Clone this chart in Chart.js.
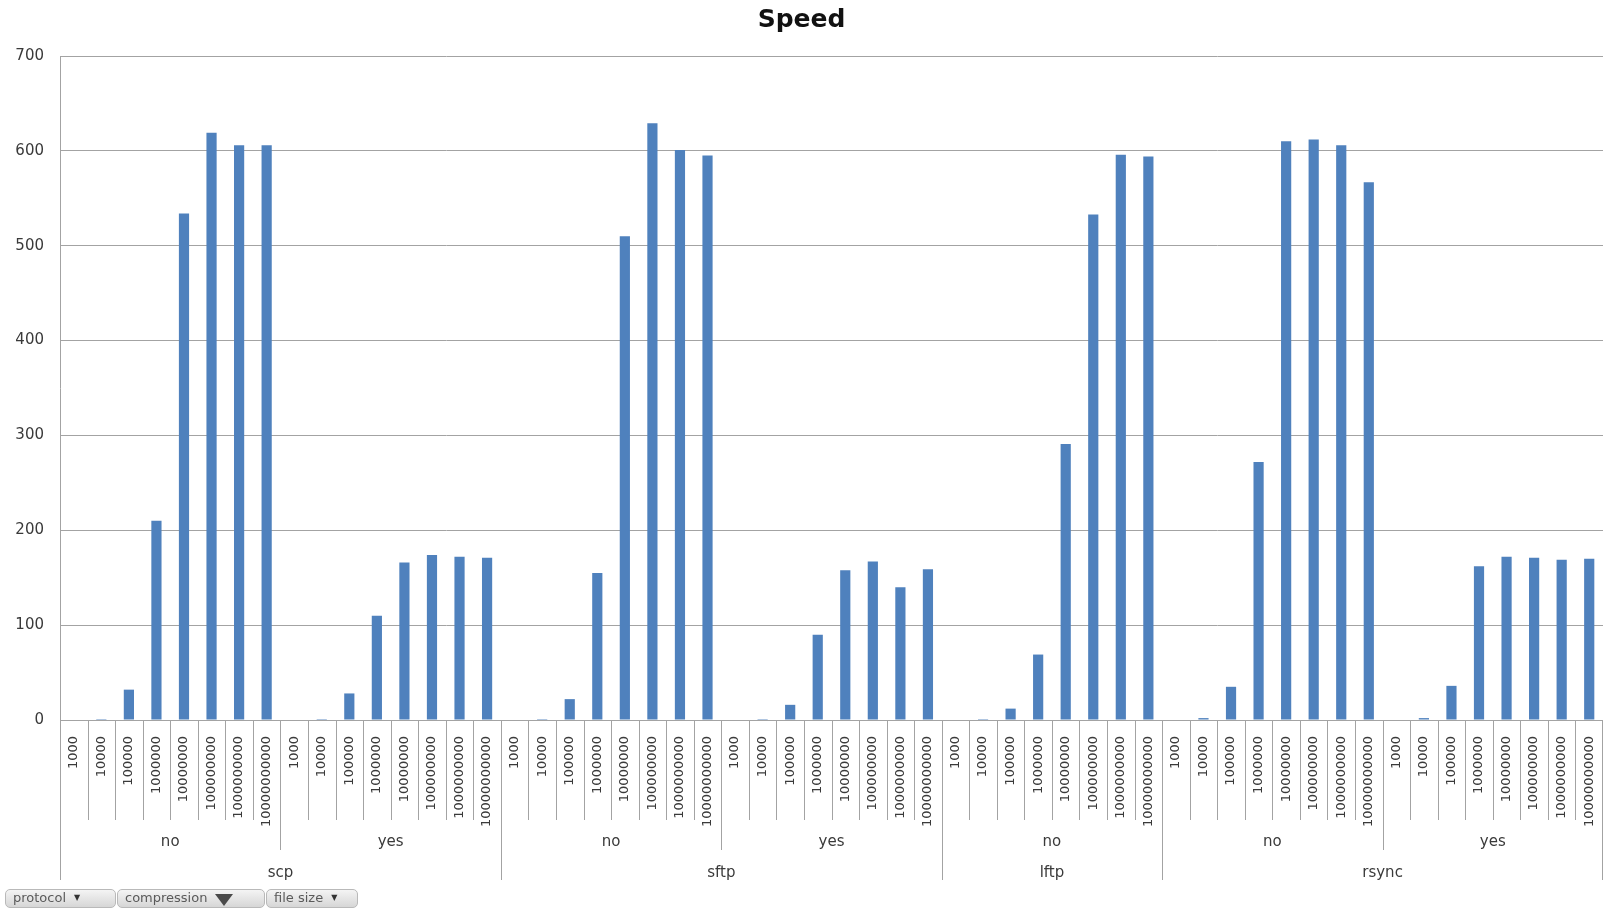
<!DOCTYPE html>
<html>
<head>
<meta charset="utf-8">
<title>Speed</title>
<script src="https://cdn.jsdelivr.net/npm/chart.js@4.4.1/dist/chart.umd.min.js"></script>
<style>
    html, body { margin: 0; padding: 0; background: #fff; }
    #wrap { position: relative; width: 1604px; height: 910px; overflow: hidden; }
    #speed { display: block; }
    .fields { position: absolute; left: 5px; top: 889px; display: flex; }
    .field {
        height: 19px; line-height: 18px; padding: 0 6px 0 7px; margin-right: 1px;
        border: 1px solid #b9b9b9; border-radius: 5px;
        background: linear-gradient(#f4f4f4, #d6d6d6);
        font: 13px "DejaVu Sans", sans-serif; color: #5a5a5a;
        box-sizing: border-box; white-space: nowrap;
    }
    .field .arrow { font-size: 8px; margin-left: 8px; vertical-align: 2px; color: #333; }
    .field .funnel {
        display: inline-block; width: 0; height: 0; margin-left: 8px; vertical-align: -4px;
        border-left: 9px solid transparent; border-right: 9px solid transparent;
        border-top: 12px solid #4a4a4a;
    }
</style>
</head>
<body>
<div id="wrap">
    <canvas id="speed" width="1604" height="910"></canvas>
    <div class="fields">
        <div class="field" style="width:111px">protocol<span class="arrow">▼</span></div>
        <div class="field" style="width:148px">compression<span class="funnel"></span></div>
        <div class="field" style="width:92px">file size<span class="arrow">▼</span></div>
    </div>
</div>
<script>
// categories
const fileSizes = ['1000', '10000', '100000', '1000000', '10000000', '100000000', '1000000000', '10000000000'];
const protocols = ['scp', 'scp', 'sftp', 'sftp', 'lftp', 'rsync', 'rsync'];
const compression = ['no', 'yes', 'no', 'yes', 'no', 'no', 'yes'];

// speed per file size, one array per protocol/compression group
const scpNo    = [0, 1, 32, 210, 534, 619, 606, 606];
const scpYes   = [0, 1, 28, 110, 166, 174, 172, 171];
const sftpNo   = [0, 1, 22, 155, 510, 629, 601, 595];
const sftpYes  = [0, 1, 16, 90, 158, 167, 140, 159];
const lftpNo   = [0, 1, 12, 69, 291, 533, 596, 594];
const rsyncNo  = [0, 2, 35, 272, 610, 612, 606, 567];
const rsyncYes = [0, 2, 36, 162, 172, 171, 169, 170];

const yTicks = [0, 100, 200, 300, 400, 500, 600, 700];

const groups = [scpNo, scpYes, sftpNo, sftpYes, lftpNo, rsyncNo, rsyncYes];
const labels = [];
const speeds = [];
groups.forEach(g => {
    fileSizes.forEach((s, i) => {
        labels.push(s);
        speeds.push(g[i]);
    });
});

const gridColor = '#a3a3a3';
const textColor = '#3a3a3a';

// draws the nested category axis (file size / compression / protocol) below the plot
const axisTree = {
    id: 'axisTree',
    afterDraw(chart) {
        const {ctx, chartArea, scales: {x}} = chart;
        const half = (x.getPixelForValue(1) - x.getPixelForValue(0)) / 2;
        const n = labels.length;
        const per = fileSizes.length;
        const edge = i => i < n ? x.getPixelForValue(i) - half : x.getPixelForValue(n - 1) + half;
        const y0 = chartArea.bottom;

        ctx.save();
        ctx.strokeStyle = gridColor;
        ctx.lineWidth = 1;
        for (let i = 0; i <= n; i++) {
            const g = i / per;
            let depth = 100;
            if (i % per === 0) {
                depth = 130;
                if (g === 0 || g === groups.length || protocols[g] !== protocols[g - 1]) depth = 160;
            }
            const px = Math.min(Math.round(edge(i)), chart.width - 2) + 0.5;
            ctx.beginPath();
            ctx.moveTo(px, y0);
            ctx.lineTo(px, y0 + depth);
            ctx.stroke();
        }

        ctx.fillStyle = textColor;
        ctx.font = '15px "DejaVu Sans", sans-serif';
        ctx.textAlign = 'center';
        ctx.textBaseline = 'middle';
        groups.forEach((g, k) => {
            const mid = (edge(k * per) + edge((k + 1) * per)) / 2;
            ctx.fillText(compression[k], mid, y0 + 122);
        });
        let start = 0;
        for (let k = 1; k <= groups.length; k++) {
            if (k === groups.length || protocols[k] !== protocols[start]) {
                const mid = (edge(start * per) + edge(k * per)) / 2;
                ctx.fillText(protocols[start], mid, y0 + 153);
                start = k;
            }
        }
        ctx.restore();
    }
};

new Chart(document.getElementById('speed'), {
    type: 'bar',
    data: {
        labels: labels,
        datasets: [{
            label: 'Speed',
            data: speeds,
            backgroundColor: '#4f81bd',
            borderWidth: 0,
            categoryPercentage: 1,
            barPercentage: 0.37
        }]
    },
    options: {
        responsive: false,
        animation: false,
        layout: {padding: {left: 0, right: 1, top: 0, bottom: 0}},
        plugins: {
            legend: {display: false},
            tooltip: {enabled: false},
            title: {
                display: true,
                text: 'Speed',
                color: '#111',
                font: {family: '"DejaVu Sans", sans-serif', size: 25, weight: 'bold'},
                padding: {top: 5, bottom: 21}
            }
        },
        scales: {
            x: {
                grid: {display: false},
                border: {display: false},
                ticks: {
                    autoSkip: false,
                    minRotation: 90,
                    maxRotation: 90,
                    padding: 8,
                    color: textColor,
                    font: {family: '"DejaVu Sans", sans-serif', size: 13}
                },
                afterFit(scale) {
                    scale.height = 190;
                    scale.paddingLeft = 0;
                    scale.paddingRight = 0;
                }
            },
            y: {
                min: 0,
                max: 700,
                afterBuildTicks(scale) { scale.ticks = yTicks.map(v => ({value: v})); },
                grid: {color: gridColor, drawTicks: false},
                border: {display: true, color: gridColor},
                ticks: {
                    padding: 16,
                    color: textColor,
                    font: {family: '"DejaVu Sans", sans-serif', size: 15}
                },
                afterFit(scale) { scale.width = 60; }
            }
        }
    },
    plugins: [axisTree]
});
</script>
</body>
</html>
